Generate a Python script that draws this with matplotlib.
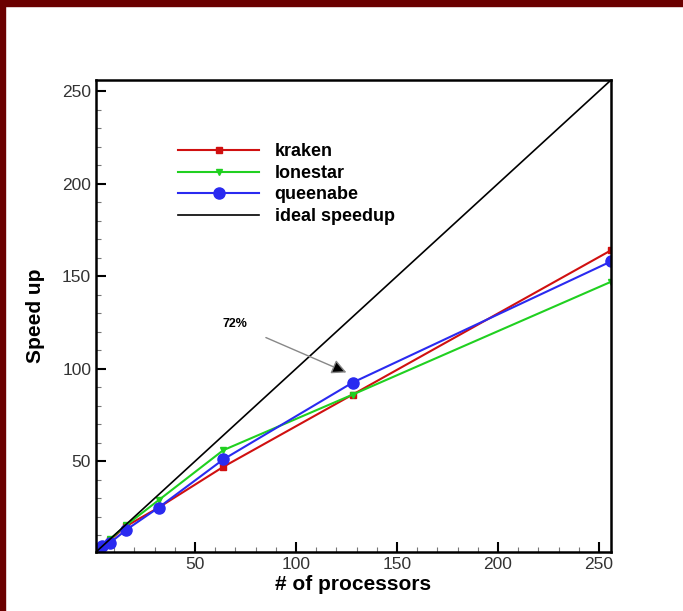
import numpy as np
import matplotlib.pyplot as plt
from matplotlib.patches import Rectangle
from matplotlib.ticker import MultipleLocator

# processor counts and measured speedups
procs = [1, 2, 4, 8, 16, 32, 64, 128, 256]
kraken = [1, 2, 4, 7.5, 15, 25, 47, 86, 164]
lonestar = [1, 2, 4, 8, 15.5, 29, 56, 86, 147]
queenabe = [1, 2, 4, 6, 13, 25, 51, 92.5, 158]
ideal = procs

plt.rcParams['font.family'] = ['Liberation Sans', 'DejaVu Sans']

fig = plt.figure(figsize=(6.83, 6.11), dpi=100)
ax = fig.add_axes([0.1406, 0.0966, 0.754, 0.7724])

# maroon frame of the slide
fig.patches.append(Rectangle((0, 1 - 6/611), 1, 6/611, transform=fig.transFigure,
                             color='#6b0000', zorder=0))
fig.patches.append(Rectangle((0, 0), 5/683, 1, transform=fig.transFigure,
                             color='#6b0000', zorder=0))

ax.plot(procs, kraken, color='#d01010', marker='s', ms=5, lw=1.5, label='kraken')
ax.plot(procs, lonestar, color='#20d020', marker='v', ms=5, lw=1.5, label='lonestar')
ax.plot(procs, queenabe, color='#2a2af0', marker='o', ms=8, lw=1.5, label='queenabe')
ax.plot(procs, ideal, color='black', lw=1.2, label='ideal speedup')

ax.set_xlim(1, 256)
ax.set_ylim(1, 256)
ax.set_xticks([50, 100, 150, 200, 250])
ax.set_yticks([50, 100, 150, 200, 250])
ax.xaxis.set_minor_locator(MultipleLocator(10))
ax.yaxis.set_minor_locator(MultipleLocator(10))
ax.tick_params(which='major', direction='in', length=7, width=1.5, labelsize=12.5,
               labelcolor='#333333')
ax.tick_params(which='minor', direction='in', length=3.5, width=0.8, color='#777777')
for s in ax.spines.values():
    s.set_linewidth(1.8)

ax.set_xlabel('# of processors', fontsize=15, fontweight='bold', labelpad=2)
ax.set_ylabel('Speed up', fontsize=15, fontweight='bold', labelpad=12)

ax.annotate('72%', xy=(125, 98), xytext=(70, 124), fontsize=9, fontweight='bold',
            ha='center', va='center',
            arrowprops=dict(arrowstyle='-|>', edgecolor='#888888', facecolor='black',
                            lw=1, mutation_scale=22, shrinkA=12, shrinkB=0))

leg = ax.legend(loc='upper left', bbox_to_anchor=(0.145, 0.881), frameon=False,
                handlelength=4.5, handletextpad=0.85, labelspacing=0.25,
                borderaxespad=0, prop={'size': 13, 'weight': 'bold'})

fig.savefig('out.png', dpi=100)
